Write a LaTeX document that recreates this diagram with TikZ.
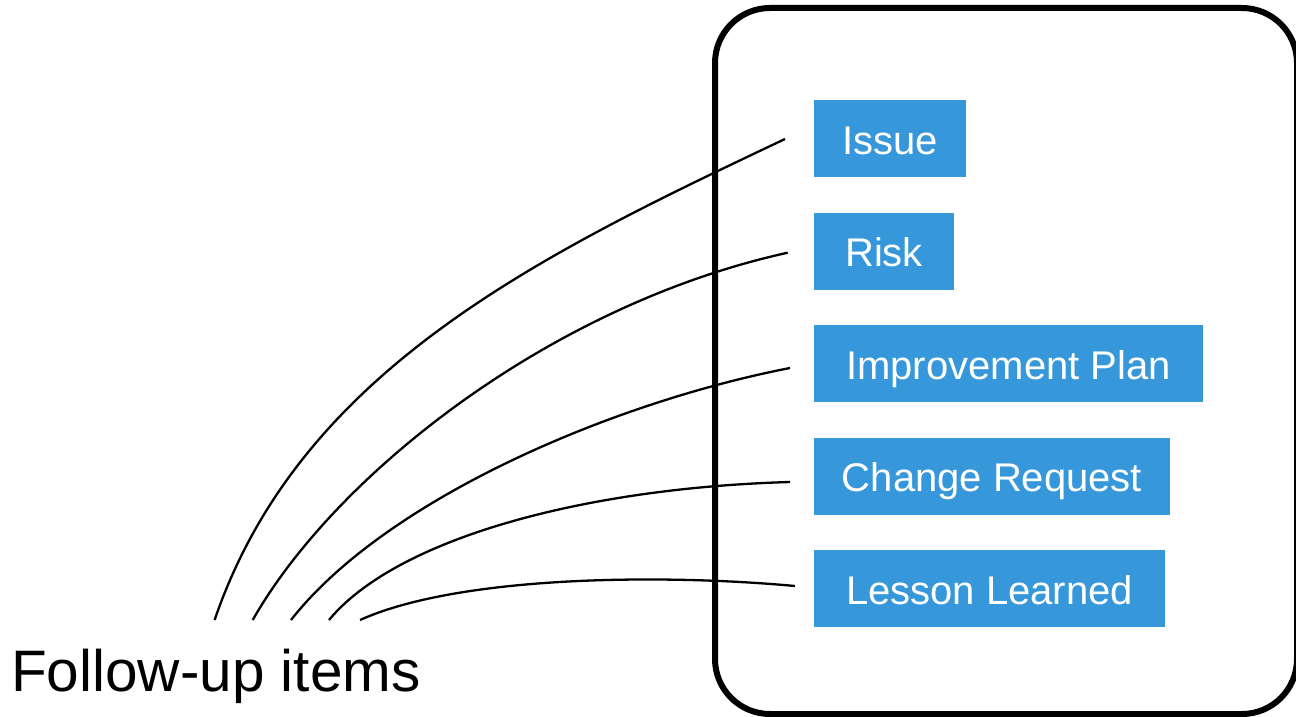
\documentclass[tikz,border=0pt]{standalone}
\usepackage{fontspec}
\setmainfont{Liberation Sans}
\definecolor{itemblue}{RGB}{54,152,219}
\begin{document}
\begin{tikzpicture}[x=1pt,y=-1pt,
  item/.style={fill=itemblue, text=white, inner sep=0pt, minimum height=77pt,
    text height=31pt, text depth=0pt, font=\fontsize{40}{48}\selectfont},
  link/.style={line width=2.3pt},
  frame/.style={line width=6pt, rounded corners=55pt}]
\useasboundingbox (0,0) rectangle (1296,717);
\draw[frame] (715,8) rectangle (1297,714);
\node[item, minimum width=152pt] (issue) at (890,138.5) {Issue};
\node[item, minimum width=140pt] (risk) at (884,251) {Risk};
\node[item, minimum width=389pt] (plan) at (1008.5,363.5) {Improvement Plan};
\node[item, minimum width=356pt] (change) at (992,476) {Change Request};
\node[item, minimum width=351pt] (lesson) at (989.5,588.5) {Lesson Learned};
\node[anchor=base west, inner sep=0pt, font=\fontsize{58.5}{70}\selectfont] (follow) at (11,691) {Follow-up items};
\coordinate (s1) at (214.6,620); \coordinate (e1) at (785,139);
\coordinate (s2) at (252.7,620); \coordinate (e2) at (787.7,252.7);
\coordinate (s3) at (291,620);   \coordinate (e3) at (790,368);
\coordinate (s4) at (329,620);   \coordinate (e4) at (790,482);
\coordinate (s5) at (360,620);   \coordinate (e5) at (795,586);
\draw[link] (s1) .. controls (300,370) and (540,255) .. (e1);
\draw[link] (s2) .. controls (335,475) and (550,305) .. (e2);
\draw[link] (s3) .. controls (385,500) and (610,403) .. (e3);
\draw[link] (s4) .. controls (395,540) and (580,488) .. (e4);
\draw[link] (s5) .. controls (460,575) and (665,574) .. (e5);
\end{tikzpicture}
\end{document}
